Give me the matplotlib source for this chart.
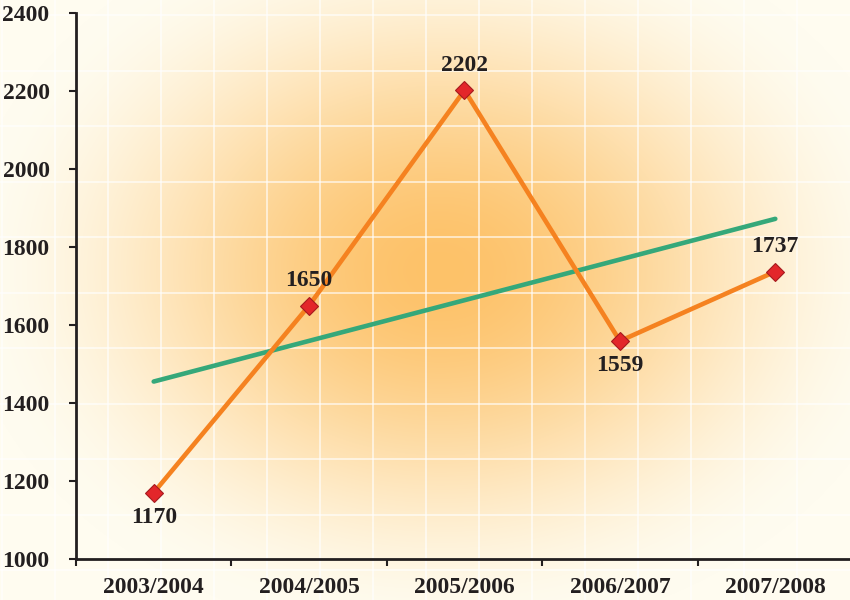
import numpy as np
import matplotlib
matplotlib.use("Agg")
import matplotlib.pyplot as plt

# chart data
seasons = ["2003/2004", "2004/2005", "2005/2006", "2006/2007", "2007/2008"]
values = [1170, 1650, 2202, 1559, 1737]
label_side = [-1, 1, 1, -1, 1]   # -1 label below the point, 1 above
y_ticks = [1000, 1200, 1400, 1600, 1800, 2000, 2200, 2400]

W, H = 850, 600
fig = plt.figure(figsize=(W / 100, H / 100), dpi=100)

# background: radial orange glow plus a white grid texture
bg = fig.add_axes([0, 0, 1, 1])
yy, xx = np.mgrid[0:H, 0:W]
r = np.sqrt(((xx - 440) / 480.) ** 2 + ((yy - 270) / 370.) ** 2)
t = np.clip(r, 0, 1)
t = t * t * (3 - 2 * t)
c0 = np.array([253, 194, 105]) / 255.
c1 = np.array([255, 252, 240]) / 255.
img = c0[None, None, :] * (1 - t[..., None]) + c1[None, None, :] * t[..., None]
bg.imshow(img, extent=(0, W, H, 0), aspect="auto")
for gx in np.arange(2, W, 53):
    bg.axvline(gx, color="white", lw=1.3, alpha=0.65)
for gy in np.arange(15, H, 55.5):
    bg.axhline(gy, color="white", lw=1.3, alpha=0.65)
bg.set_xlim(0, W)
bg.set_ylim(H, 0)
bg.axis("off")

ax = fig.add_axes([76 / W, 41 / H, 777 / W, 546 / H])
ax.patch.set_alpha(0)

x = np.arange(len(seasons))
coef = np.polyfit(x, values, 1)
ax.plot(x, np.polyval(coef, x), color="#35A87A", lw=3.3, solid_capstyle="round", zorder=2)
ax.plot(x, values, color="#F58220", lw=3.3, zorder=3,
        marker="D", ms=9, mfc="#E3262A", mec="#A51A1E", mew=0.8)

for xi, v, s in zip(x, values, label_side):
    ax.annotate(str(v), (xi, v), xytext=(0, 18 * s), textcoords="offset points",
                ha="center", va="center", fontsize=17, fontweight="bold",
                family="Liberation Serif", color="#231F20")

ax.set_xlim(-0.5, len(seasons) - 0.5)
ax.set_ylim(1000, 2400)
ax.set_yticks(y_ticks)
ax.set_xticks(x)
ax.set_xticklabels(seasons)
ax.set_xticks(np.arange(-0.5, len(seasons), 1), minor=True)

for lab in ax.get_xticklabels() + ax.get_yticklabels():
    lab.set_family("Liberation Serif")
    lab.set_fontweight("bold")
    lab.set_fontsize(17)
    lab.set_color("#231F20")

ax.tick_params(axis="x", which="major", length=0, pad=13)
ax.tick_params(axis="x", which="minor", length=5, width=1.5, color="#231F20")
ax.tick_params(axis="y", length=5, width=1.5, color="#231F20", pad=14)
for side in ["top", "right"]:
    ax.spines[side].set_visible(False)
for side in ["left", "bottom"]:
    ax.spines[side].set_linewidth(2)
    ax.spines[side].set_color("#231F20")

fig.savefig("out.png", dpi=100)
